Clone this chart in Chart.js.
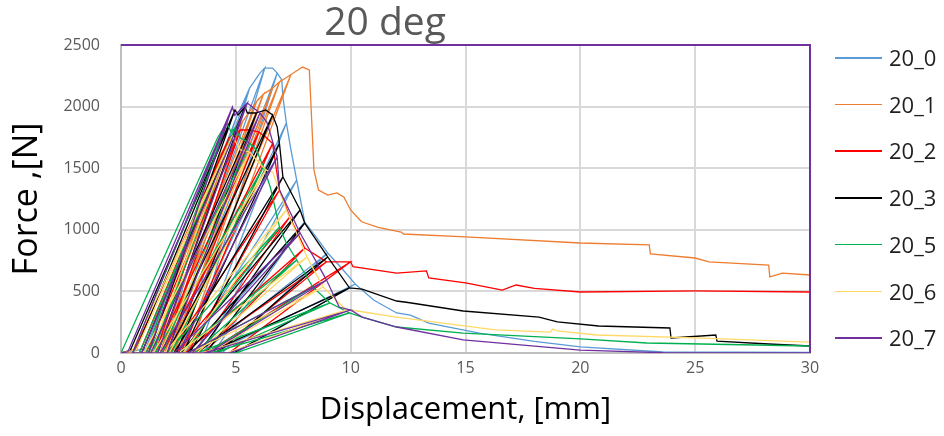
<!DOCTYPE html>
<html>
<head>
<meta charset="utf-8">
<script src="https://cdn.jsdelivr.net/npm/chart.js@4.4.1/dist/chart.umd.min.js"></script>
<style>
  html, body { margin: 0; padding: 0; background: #ffffff; }
  #wrap { position: relative; width: 944px; height: 436px; overflow: hidden; font-family: "Open Sans", sans-serif; }
  #chart { position: absolute; left: 0; top: 0; }
  #title { position: absolute; left: 0; width: 770px; top: -7px; text-align: center; font-size: 39px; color: #595959; line-height: normal; white-space: nowrap; }
  #legend { position: absolute; left: 835px; top: 0; width: 109px; height: 436px; }
  .item { position: absolute; left: 0; width: 109px; height: 2px; }
  .item .ln { position: absolute; left: 0; top: -1px; width: 47px; height: 1.5px; }
  .item .tx { position: absolute; left: 54px; top: -15px; font-size: 22px; line-height: 28px; color: #1f1f1f; white-space: nowrap; }
</style>
</head>
<body>
<div id="wrap">
  <canvas id="chart" width="944" height="436"></canvas>
  <div id="title">20 deg</div>
  <div id="legend"></div>
</div>
<script>
// Axis ticks
const xTicks = [0, 5, 10, 15, 20, 25, 30];
const yTicks = [0, 500, 1000, 1500, 2000, 2500];

// Specimens
const seriesNames = ['20_0', '20_1', '20_2', '20_3', '20_5', '20_6', '20_7'];
const seriesColors = ['#5B9BD5', '#ED7D31', '#FF0000', '#000000', '#00B050', '#FFD966', '#7030A0'];

// Each specimen: first loading branch [mm, N],
// load cycles [peak displacement mm, peak force N, unloading ends at mm, reloading starts at mm]
// (null, null = point on the envelope without an unloading loop),
// and the post-cycling tail [mm, N].
const load20_0 = [[0, 0], [1.2, 40]];
const cyc20_0 = [
  [5.0, 1900, 1.0, 1.8], [5.6, 2150, 1.4, 2.2], [6.05, 2272, null, null], [6.26, 2313, 1.8, 2.6],
  [6.6, 2313, null, null], [6.8, 2272, 2.2, 3.0], [7.0, 2216, null, null], [7.05, 2078, null, null],
  [7.2, 1867, 2.5, 3.3], [7.4, 1648, null, null], [7.65, 1404, 2.8, 3.6], [7.9, 1161, null, null],
  [8.0, 1063, 3.1, 4.0], [8.5, 940, null, null], [9.0, 812, 3.5, 4.4], [9.6, 690, null, null],
  [10.2, 560, 4.0, 5.0]
];
const tail20_0 = [[10.5, 511], [11.0, 430], [12, 325], [12.6, 308], [13.4, 243], [15.6, 162], [18, 95], [20, 49], [23.6, 8], [30, 4]];

const load20_1 = [[0, 0], [1.0, 0], [1.3, 60]];
const cyc20_1 = [
  [4.3, 1600, 0.9, 1.5], [4.8, 1750, 1.1, 1.7], [5.3, 1880, 1.3, 1.9], [5.9, 2040, 1.5, 2.1],
  [6.2, 2100, 1.7, 2.3], [6.6, 2150, 1.9, 2.5], [6.9, 2200, 2.1, 2.7], [7.4, 2260, 2.3, 2.9],
  [7.9, 2321, null, null]
];
const tail20_1 = [
  [8.2, 2297], [8.3, 1900], [8.4, 1486], [8.6, 1323], [9.0, 1282], [9.4, 1299], [9.7, 1266], [10.0, 1161],
  [10.4, 1080], [10.5, 1063], [11.2, 1020], [12.2, 982], [12.3, 966], [15, 942], [20, 893], [23, 877],
  [23.05, 804], [25, 771], [25.6, 739], [28.2, 714], [28.25, 617], [28.8, 649], [30, 633]
];

const load20_2 = [[0, 0], [0.6, 30]];
const cyc20_2 = [
  [4.7, 1745, 0.8, 1.5], [5.2, 1810, 1.1, 1.8], [5.6, 1810, null, null], [6.0, 1794, 1.5, 2.2],
  [6.3, 1753, null, null], [6.6, 1700, 1.8, 2.6], [6.9, 1323, 2.1, 2.9], [7.35, 1104, 2.4, 3.2],
  [8.0, 852, 2.8, 3.6], [8.95, 740, 3.2, 4.1], [10.0, 740, 3.7, 4.7]
];
const tail20_2 = [[10.1, 700], [12, 649], [13.3, 666], [13.4, 609], [15, 570], [16.6, 511], [17.2, 552], [18, 525], [20, 495], [25, 505], [30, 495]];

const load20_3 = [[0, 0], [0.4, 20]];
const cyc20_3 = [
  [4.96, 1973, 0.6, 1.2], [5.1, 1932, null, null], [5.4, 1997, 0.9, 1.6], [5.5, 1948, null, null],
  [5.9, 1948, 1.3, 2.0], [6.3, 1973, null, null], [6.6, 1932, 1.7, 2.4], [6.8, 1835, null, null],
  [6.9, 1700, 2.0, 2.7], [7.05, 1430, 2.3, 3.0], [7.8, 1161, 2.6, 3.4], [8.0, 1055, 2.9, 3.7],
  [9.0, 780, 3.3, 4.2], [9.95, 528, 3.8, 4.9]
];
const tail20_3 = [
  [10.5, 519], [12, 422], [12.5, 410], [14.9, 341], [18.2, 292], [19, 252], [20.8, 219], [23.9, 203],
  [23.95, 122], [25.9, 146], [25.95, 97], [28.2, 73], [30, 57]
];

const load20_5 = [[0, 0]];
const cyc20_5 = [
  [4.2, 1745, null, null], [4.6, 1867, 0.5, 1.1], [4.8, 1794, null, null], [4.96, 1826, 0.8, 1.4],
  [5.2, 1745, null, null], [5.6, 1705, 1.2, 1.8], [5.9, 1648, null, null], [6.2, 1510, 1.5, 2.2],
  [6.5, 1347, null, null], [6.9, 1023, 2.0, 2.7], [7.2, 893, null, null], [7.65, 755, 2.5, 3.2],
  [8.35, 536, 2.9, 3.7], [9.1, 406, 3.3, 4.2], [9.95, 325, 3.9, 5.0]
];
const tail20_5 = [[10.5, 292], [12, 211], [14.9, 162], [20, 114], [22.9, 81], [30, 57]];

const load20_6 = [[0, 0], [0.5, 20]];
const cyc20_6 = [
  [4.7, 1705, null, null], [4.85, 1760, 0.6, 1.3], [5.2, 1648, null, null], [5.6, 1632, 1.0, 1.7],
  [5.9, 1567, null, null], [6.3, 1486, 1.4, 2.1], [6.6, 1469, null, null], [7.2, 1161, 1.9, 2.7],
  [8.1, 779, 2.5, 3.3], [8.8, 536, 3.0, 3.8], [9.8, 349, 3.5, 4.6]
];
const tail20_6 = [[10, 349], [12, 292], [16.3, 187], [18.7, 170], [18.8, 195], [19.0, 180], [20.7, 146], [25, 122], [30, 89]];

const load20_7 = [[0, 0], [0.3, 10]];
const cyc20_7 = [
  [4.85, 1997, 0.5, 1.2], [4.95, 1930, null, null], [5.5, 2029, 0.9, 1.6], [6.05, 1948, 1.3, 2.0],
  [6.35, 1875, null, null], [6.8, 1591, 1.7, 2.5], [6.9, 1323, null, null], [7.8, 974, 2.3, 3.1],
  [8.95, 592, 2.9, 3.8], [9.5, 373, null, null], [10, 349, 3.6, 4.7]
];
const tail20_7 = [[10.5, 292], [12, 211], [14.9, 106], [20, 24], [23.6, 2], [30, 0]];

const specimens = [
  [load20_0, cyc20_0, tail20_0],
  [load20_1, cyc20_1, tail20_1],
  [load20_2, cyc20_2, tail20_2],
  [load20_3, cyc20_3, tail20_3],
  [load20_5, cyc20_5, tail20_5],
  [load20_6, cyc20_6, tail20_6],
  [load20_7, cyc20_7, tail20_7]
];

// Turn a specimen's branches into one force-displacement path
function buildPath(load, cycles, tail) {
  const pts = load.map(([x, y]) => ({ x, y }));
  cycles.forEach(([x, f, unloadTo, reloadFrom]) => {
    pts.push({ x, y: f });
    if (unloadTo !== null) {
      pts.push({ x: unloadTo, y: 0 });
      pts.push({ x: reloadFrom, y: 0 });
      pts.push({ x, y: f });
    }
  });
  tail.forEach(([x, y]) => pts.push({ x, y }));
  return pts;
}

const FONT = '"Open Sans", sans-serif';

const datasets = seriesNames.map((name, i) => ({
  label: name,
  data: buildPath(...specimens[i]),
  borderColor: seriesColors[i],
  backgroundColor: seriesColors[i],
  borderWidth: 1.3,
  showLine: true,
  fill: false,
  pointRadius: 0,
  tension: 0,
  order: seriesNames.length - 1 - i
}));

// Purple frame along the top and right edges of the plot area
const plotFrame = {
  id: 'plotFrame',
  afterDatasetsDraw(chart) {
    const { ctx, chartArea: a } = chart;
    ctx.save();
    ctx.strokeStyle = '#7030A0';
    ctx.lineWidth = 2;
    ctx.beginPath();
    ctx.moveTo(a.left, a.top);
    ctx.lineTo(a.right, a.top);
    ctx.lineTo(a.right, a.bottom);
    ctx.stroke();
    ctx.restore();
  }
};

new Chart(document.getElementById('chart'), {
  type: 'scatter',
  data: { datasets },
  options: {
    responsive: false,
    animation: false,
    devicePixelRatio: 1,
    layout: { padding: { top: 45, right: 134, left: 0, bottom: 0 } },
    plugins: {
      legend: { display: false },
      title: { display: false },
      tooltip: { enabled: false }
    },
    scales: {
      x: {
        type: 'linear',
        min: xTicks[0],
        max: xTicks[xTicks.length - 1],
        afterBuildTicks: s => { s.ticks = xTicks.map(v => ({ value: v })); },
        ticks: { color: '#595959', font: { family: FONT, size: 16 }, padding: 6, maxRotation: 0, callback: v => String(v) },
        grid: { color: '#d9d9d9', lineWidth: 2, drawTicks: false },
        border: { color: '#bfbfbf', width: 2 },
        title: { display: true, text: 'Displacement, [mm]', color: '#000000', font: { family: FONT, size: 31 }, padding: { top: 0, bottom: 7 } },
        afterFit: s => { s.height = 83; }
      },
      y: {
        type: 'linear',
        min: yTicks[0],
        max: yTicks[yTicks.length - 1],
        afterBuildTicks: s => { s.ticks = yTicks.map(v => ({ value: v })); },
        ticks: { color: '#595959', font: { family: FONT, size: 16 }, padding: 21, callback: v => String(v) },
        grid: { color: '#d9d9d9', lineWidth: 2, drawTicks: false },
        border: { color: '#bfbfbf', width: 2 },
        title: { display: true, text: 'Force ,[N]', color: '#000000', font: { family: FONT, size: 34 }, padding: { top: 7, bottom: 0 } },
        afterFit: s => { s.width = 121; }
      }
    }
  },
  plugins: [plotFrame]
});

// Legend entries beside the plot
const legendTop = 58;
const legendStep = 46.7;
const legendEl = document.getElementById('legend');
seriesNames.forEach((name, i) => {
  const item = document.createElement('div');
  item.className = 'item';
  item.style.top = (legendTop + i * legendStep) + 'px';
  const ln = document.createElement('div');
  ln.className = 'ln';
  ln.style.background = seriesColors[i];
  const tx = document.createElement('div');
  tx.className = 'tx';
  tx.textContent = name;
  item.appendChild(ln);
  item.appendChild(tx);
  legendEl.appendChild(item);
});
</script>
</body>
</html>
